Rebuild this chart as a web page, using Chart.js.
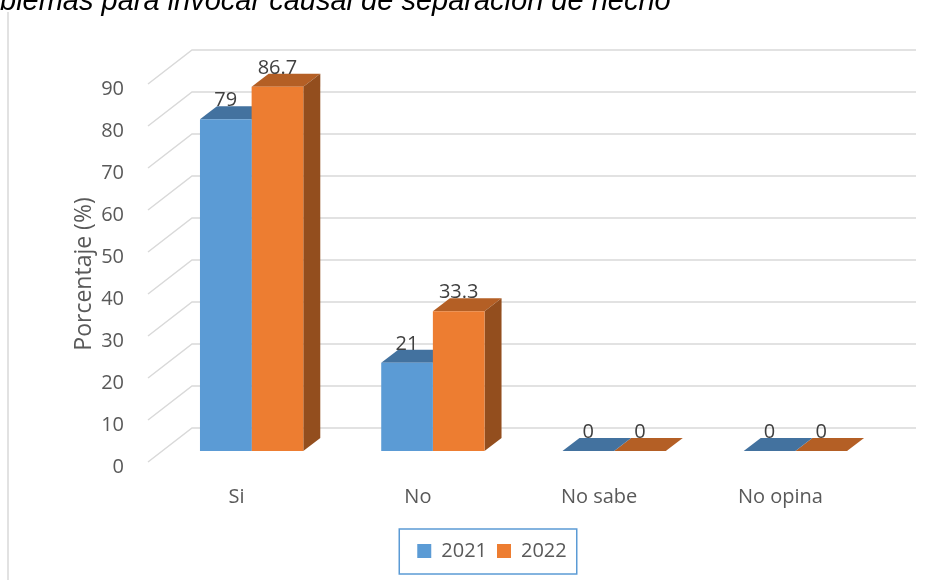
<!DOCTYPE html>
<html>
<head>
<meta charset="utf-8">
<script src="https://cdn.jsdelivr.net/npm/chart.js@4.4.1/dist/chart.umd.min.js"></script>
<style>
  html, body { margin: 0; padding: 0; background: #fff; }
  #wrap { width: 952px; height: 580px; }
</style>
</head>
<body>
<div id="wrap"><canvas id="chart" width="952" height="580"></canvas></div>
<script>
// data
const categories = ["Si", "No", "No sabe", "No opina"];
const years = ["2021", "2022"];
const values2021 = [79, 21, 0, 0];
const values2022 = [86.7, 33.3, 0, 0];
const yTicks = [0, 10, 20, 30, 40, 50, 60, 70, 80, 90];

const titleText = "blemas para invocar causal de separación de hecho";
const yTitle = "Porcentaje (%)";

// colours (front, top, side)
const blue = ["#5b9bd5", "#43729f", "#3a6590"];
const orange = ["#ed7d31", "#b45f25", "#934e1e"];

// 3D look
const depth = { dx: 17, dy: -13 };

const threeD = {
  id: "threeD",
  beforeDatasetsDraw(chart) {
    const ctx = chart.ctx;
    const area = chart.chartArea;
    const y = chart.scales.y;

    // back wall gridlines with the slanted floor lines
    ctx.save();
    ctx.strokeStyle = "#d9d9d9";
    ctx.lineWidth = 1.5;
    yTicks.forEach(v => {
      const p = y.getPixelForValue(v);
      ctx.beginPath();
      ctx.moveTo(area.left - 13, p + 11);
      ctx.lineTo(area.left + 31, p - 23);
      ctx.lineTo(area.right + 30, p - 23);
      ctx.stroke();
    });
    ctx.restore();

    // tops and sides of the bars
    const shades = [blue, orange];
    for (let d = chart.data.datasets.length - 1; d >= 0; d--) {
      const meta = chart.getDatasetMeta(d);
      meta.data.forEach(bar => {
        const l = bar.x - bar.width / 2, r = bar.x + bar.width / 2;
        const t = bar.y, b = bar.base;
        ctx.save();
        ctx.fillStyle = shades[d][1];
        ctx.beginPath();
        ctx.moveTo(l, t);
        ctx.lineTo(l + depth.dx, t + depth.dy);
        ctx.lineTo(r + depth.dx, t + depth.dy);
        ctx.lineTo(r, t);
        ctx.closePath();
        ctx.fill();
        if (b - t > 0.5) {
          ctx.fillStyle = shades[d][2];
          ctx.beginPath();
          ctx.moveTo(r, t);
          ctx.lineTo(r + depth.dx, t + depth.dy);
          ctx.lineTo(r + depth.dx, b + depth.dy);
          ctx.lineTo(r, b);
          ctx.closePath();
          ctx.fill();
        }
        ctx.restore();
      });
    }
  },
  afterDatasetsDraw(chart) {
    const ctx = chart.ctx;
    ctx.save();
    ctx.font = "20px 'Open Sans'";
    ctx.fillStyle = "#404040";
    ctx.textAlign = "center";
    ctx.textBaseline = "middle";
    chart.data.datasets.forEach((ds, d) => {
      chart.getDatasetMeta(d).data.forEach((bar, i) => {
        ctx.fillText(String(ds.data[i]), bar.x, bar.y - 19);
      });
    });
    ctx.restore();
  },
  afterDraw(chart) {
    const ctx = chart.ctx;
    ctx.save();
    // frame line on the left
    ctx.strokeStyle = "#d9d9d9";
    ctx.lineWidth = 1.5;
    ctx.beginPath();
    ctx.moveTo(8, 12);
    ctx.lineTo(8, 580);
    ctx.stroke();

    // caption, cut by the top edge
    ctx.fillStyle = "#000";
    ctx.font = "italic 29px 'Liberation Sans'";
    ctx.textBaseline = "alphabetic";
    ctx.textAlign = "left";
    ctx.fillText(titleText, 0, 10);

    // y axis title
    ctx.fillStyle = "#595959";
    ctx.font = "23px 'Open Sans'";
    ctx.textAlign = "center";
    ctx.textBaseline = "middle";
    ctx.translate(84, 274);
    ctx.rotate(-Math.PI / 2);
    ctx.fillText(yTitle, 0, 0);
    ctx.restore();

    // legend frame
    const boxes = chart.legend.legendHitBoxes;
    if (boxes && boxes.length) {
      const first = boxes[0], last = boxes[boxes.length - 1];
      ctx.save();
      ctx.strokeStyle = "#5b9bd5";
      ctx.lineWidth = 1.5;
      ctx.strokeRect(first.left - 18, first.top + first.height / 2 - 22,
        last.left + last.width - first.left + 28, 45);
      ctx.restore();
    }
  }
};

new Chart(document.getElementById("chart"), {
  type: "bar",
  data: {
    labels: categories,
    datasets: [
      { label: years[0], data: values2021, backgroundColor: blue[0] },
      { label: years[1], data: values2022, backgroundColor: orange[0] }
    ]
  },
  options: {
    responsive: false,
    animation: false,
    events: [],
    layout: { padding: { left: 98, right: 66, top: 73, bottom: 9 } },
    datasets: { bar: { categoryPercentage: 0.57, barPercentage: 1, borderWidth: 0 } },
    scales: {
      x: {
        grid: { display: false, drawTicks: false },
        border: { display: false },
        ticks: { color: "#595959", font: { family: "Open Sans", size: 20 }, padding: 34, labelOffset: -15 },
        afterFit: s => { s.height = 80; }
      },
      y: {
        min: 0,
        max: 90,
        afterBuildTicks: s => { s.ticks = yTicks.map(v => ({ value: v })); },
        grid: { display: false, drawTicks: false },
        border: { display: false },
        ticks: { color: "#595959", font: { family: "Open Sans", size: 20 }, padding: 37, labelOffset: 16 },
        afterFit: s => { s.width = 63; }
      }
    },
    plugins: {
      tooltip: { enabled: false },
      legend: {
        position: "bottom",
        labels: {
          boxWidth: 14,
          boxHeight: 14,
          padding: 10,
          color: "#595959",
          font: { family: "Open Sans", size: 20 }
        }
      }
    }
  },
  plugins: [threeD]
});
</script>
</body>
</html>
